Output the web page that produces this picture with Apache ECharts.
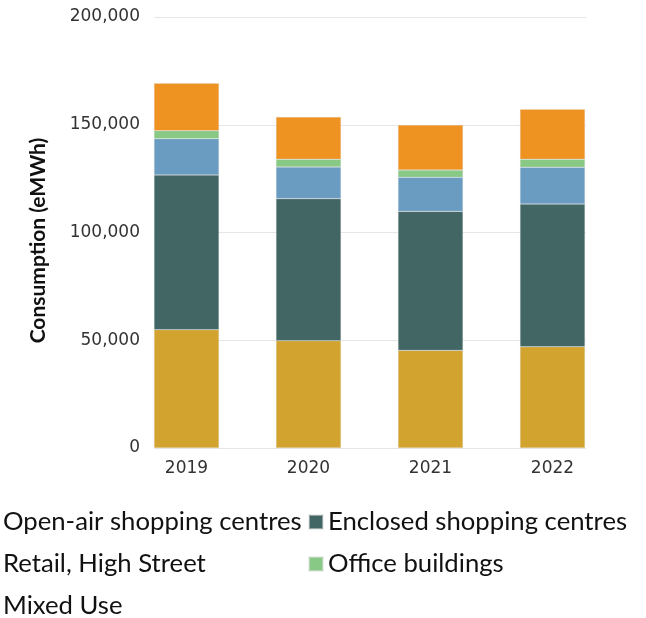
<!DOCTYPE html>
<html>
<head>
<meta charset="utf-8">
<script src="https://cdn.jsdelivr.net/npm/echarts@6/dist/echarts.min.js"></script>
<style>
  html, body { margin: 0; padding: 0; background: #fff; }
  #chart { width: 646px; height: 618px; }
</style>
</head>
<body>
<div id="chart"></div>
<script>
// values (eMWh)
var years = ['2019', '2020', '2021', '2022'];
var openAir = [54900, 49800, 45300, 47000];
var enclosed = [71800, 65900, 64500, 66200];
var retailHighStreet = [16800, 14700, 15800, 17100];
var officeBuildings = [3700, 3600, 3400, 3700];
var mixedUse = [22000, 19600, 20900, 23200];
var yTicks = [0, 50000, 100000, 150000, 200000];

var names = ['Open-air shopping centres', 'Enclosed shopping centres', 'Retail, High Street', 'Office buildings', 'Mixed Use'];
var colors = ['#d3a32f', '#416664', '#6a9bc0', '#88c986', '#ee9222'];
var values = [openAir, enclosed, retailHighStreet, officeBuildings, mixedUse];

var legendText = { fontFamily: 'Lato', fontSize: 25.7, color: '#111', lineHeight: 25 };

var series = [];
for (var i = 0; i < names.length; i++) {
    series.push({
        name: names[i],
        type: 'bar',
        stack: 'total',
        xAxisIndex: 1,
        yAxisIndex: 1,
        barWidth: 65,
        data: values[i],
        itemStyle: { color: colors[i], borderColor: 'rgba(225,225,225,0.5)', borderWidth: 0.5 }
    });
}

var option = {
    backgroundColor: '#fff',
    animation: false,
    grid: [
        // grid for the y axis and gridlines
        { left: 154, right: 60, top: 17, bottom: 170 },
        // grid for the bars
        { left: 186.5, right: 93.5, top: 17, bottom: 170 }
    ],
    legend: [
        {
            // left column icons sit off the canvas, as in the source
            orient: 'vertical', left: -17, top: 509, height: 130, padding: 0,
            itemWidth: 14, itemHeight: 14, itemGap: 16, icon: 'rect',
            textStyle: legendText,
            data: [names[0], names[2], names[4]]
        },
        {
            orient: 'vertical', left: 308, top: 509, height: 130, padding: 0,
            itemWidth: 14, itemHeight: 14, itemGap: 16, icon: 'rect',
            textStyle: legendText,
            data: [names[1], names[3]]
        }
    ],
    xAxis: [
        { type: 'value', gridIndex: 0, show: false },
        {
            type: 'category', gridIndex: 1, data: years, boundaryGap: false,
            axisLine: { show: false }, axisTick: { show: false },
            axisLabel: { margin: 12, fontFamily: 'DejaVu Sans', fontSize: 17, color: '#333' }
        }
    ],
    yAxis: [
        {
            type: 'value', gridIndex: 0, min: yTicks[0], max: yTicks[yTicks.length - 1], interval: 50000,
            name: 'Consumption (eMWh)', nameLocation: 'middle', nameGap: 105, nameRotate: 90,
            nameTextStyle: { fontFamily: 'Lato', fontWeight: 'bold', fontSize: 21, color: '#111', padding: [0, 16, 0, 0] },
            axisLine: { show: false }, axisTick: { show: false },
            axisLabel: {
                margin: 14, fontFamily: 'DejaVu Sans', fontSize: 17, color: '#333',
                formatter: function (v) { return v.toLocaleString('en-US'); }
            },
            splitLine: { lineStyle: { color: '#e6e6e6', width: 1 } }
        },
        { type: 'value', gridIndex: 1, min: 0, max: 200000, show: false, splitLine: { show: false } }
    ],
    series: series
};

var myChart = echarts.init(document.getElementById('chart'));
myChart.setOption(option);
</script>
</body>
</html>
